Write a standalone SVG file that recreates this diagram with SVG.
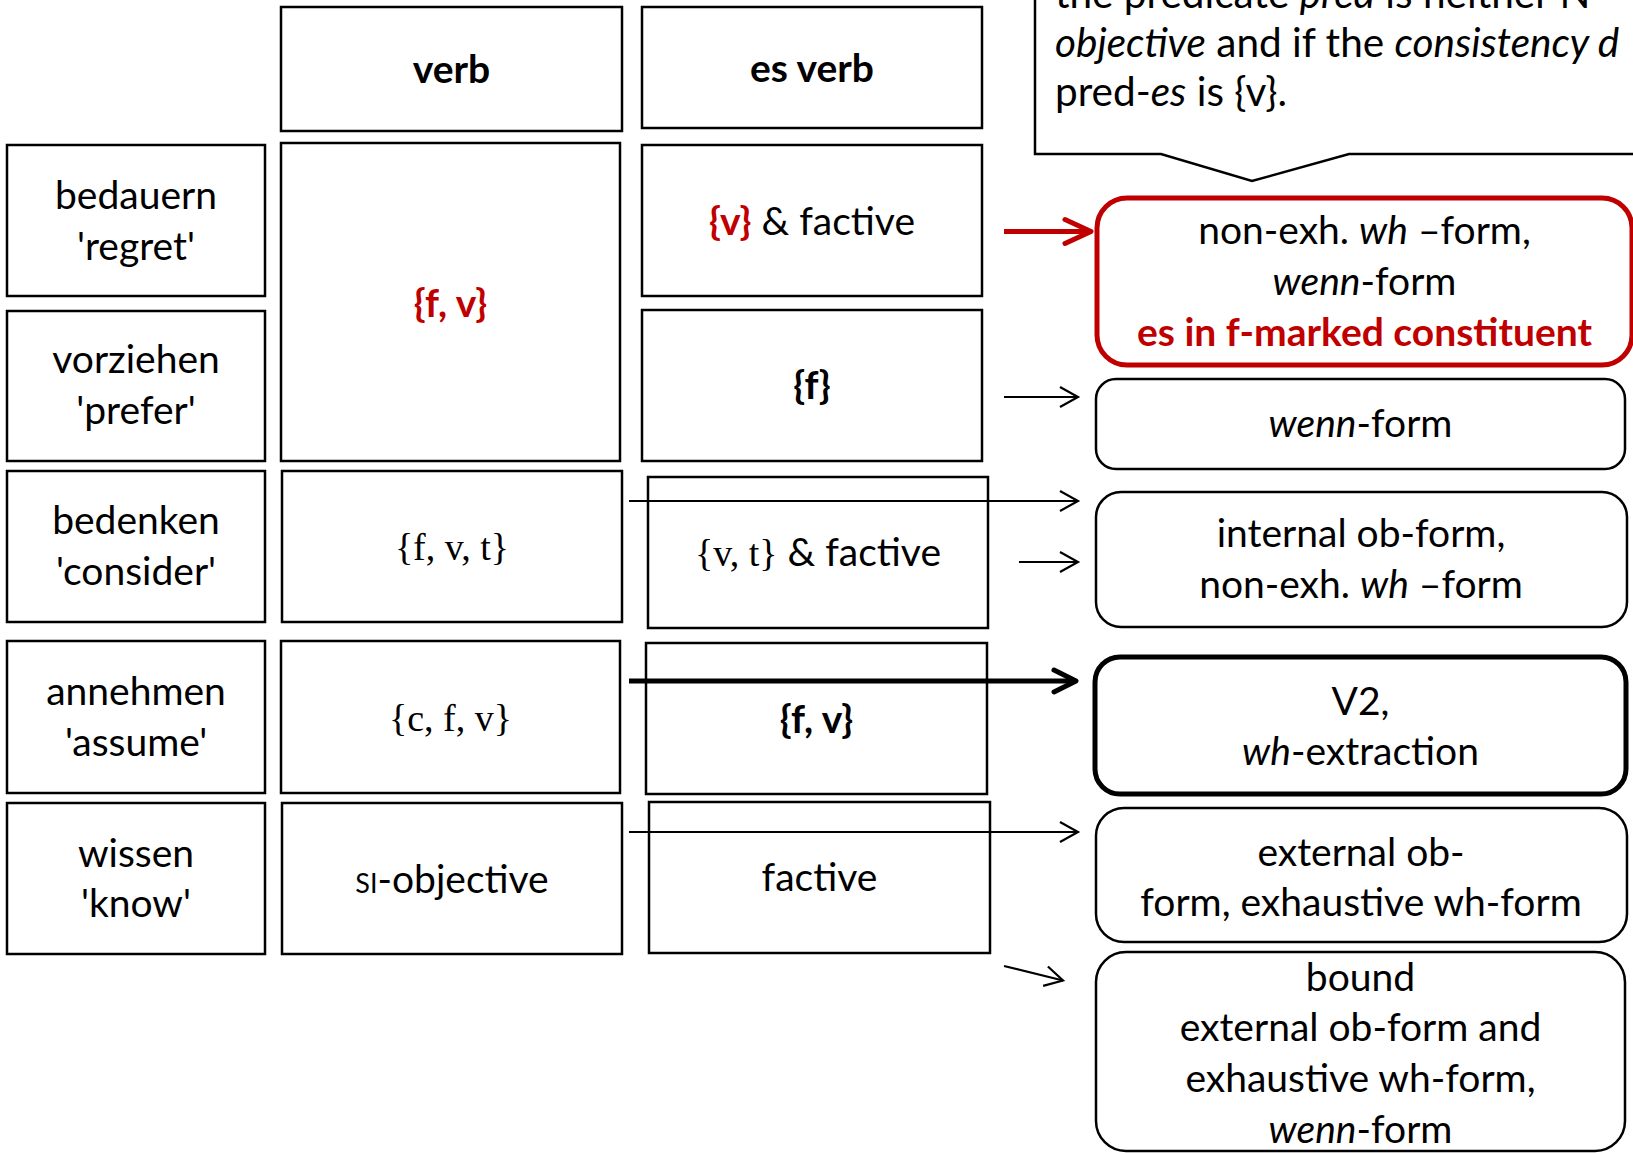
<svg xmlns="http://www.w3.org/2000/svg" width="1633" height="1153" viewBox="0 0 1633 1153">
<style>
.box{fill:#fff;stroke:#000;stroke-width:2.5}
.t{font-family:Lato,"Liberation Sans",sans-serif;font-size:39px;text-anchor:middle;fill:#000}
.l{text-anchor:start;font-size:40.5px}
.b{font-weight:bold}
.red{fill:#C00000}
.i{font-style:italic}
.sf{font-family:"Liberation Serif","DejaVu Serif",serif;font-size:38px}
.ln{fill:none;stroke:#000;stroke-width:2.2}
.lk{fill:none;stroke:#000;stroke-width:5}
.lr{fill:none;stroke:#C00000;stroke-width:5}
</style>
<defs>
<marker id="ah" markerUnits="userSpaceOnUse" markerWidth="40" markerHeight="40" refX="0" refY="0" orient="auto" overflow="visible"><path d="M-18,-10 L0,0 L-18,10" fill="none" stroke="#000" stroke-width="2.2"/></marker>
<marker id="ahk" markerUnits="userSpaceOnUse" markerWidth="40" markerHeight="40" refX="0" refY="0" orient="auto" overflow="visible"><path d="M-22,-11 L0,0 L-22,11" fill="none" stroke="#000" stroke-width="5" stroke-linecap="round" stroke-linejoin="round"/></marker>
<marker id="ahr" markerUnits="userSpaceOnUse" markerWidth="40" markerHeight="40" refX="0" refY="0" orient="auto" overflow="visible"><path d="M-26,-12 L0,0 L-26,12" fill="none" stroke="#C00000" stroke-width="5" stroke-linecap="round" stroke-linejoin="round"/></marker>
</defs>

<g id="callout">
<path d="M1035,-10 L1035,154 L1161,154 L1252,181 L1349,154 L1650,154 L1650,-10 Z" class="box"/>
<text class="t l" x="1055" y="8">the predicate <tspan class="i">pred</tspan> is neither N</text>
<text class="t l" x="1055" y="57"><tspan class="i">objective</tspan> and if the <tspan class="i">consistency d</tspan></text>
<text class="t l" x="1055" y="106">pred-<tspan class="i">es</tspan> is {v}.</text>
</g>

<g id="h-verb"><rect class="box" x="281" y="7" width="341" height="124"/><text class="t b" x="451.5" y="83">verb</text></g>
<g id="h-esverb"><rect class="box" x="642" y="7" width="340" height="121"/><text class="t b" x="812" y="82">es verb</text></g>

<g id="v-bedauern"><rect class="box" x="7" y="145" width="258" height="151"/><text class="t" x="136" y="209">bedauern</text><text class="t" x="136" y="260">'regret'</text></g>
<g id="v-vorziehen"><rect class="box" x="7" y="311" width="258" height="150"/><text class="t" x="136" y="373">vorziehen</text><text class="t" x="136" y="424">'prefer'</text></g>
<g id="v-bedenken"><rect class="box" x="7" y="471" width="258" height="151"/><text class="t" x="136" y="534">bedenken</text><text class="t" x="136" y="585">'consider'</text></g>
<g id="v-annehmen"><rect class="box" x="7" y="641" width="258" height="152"/><text class="t" x="136" y="705">annehmen</text><text class="t" x="136" y="756">'assume'</text></g>
<g id="v-wissen"><rect class="box" x="7" y="803" width="258" height="151"/><text class="t" x="136" y="867">wissen</text><text class="t" x="136" y="917">'know'</text></g>

<g id="m-fv"><rect class="box" x="281" y="143" width="339" height="318"/><text class="t b red" x="450.5" y="317">{f, v}</text></g>
<g id="m-fvt"><rect class="box" x="282" y="471" width="340" height="151"/><text class="t sf" x="452" y="560">{f, v, t}</text></g>
<g id="m-cfv"><rect class="box" x="281" y="641" width="339" height="152"/><text class="t sf" x="450.5" y="731">{c, f, v}</text></g>
<g id="m-si"><rect class="box" x="282" y="803" width="340" height="151"/><text class="t" x="452" y="893"><tspan style="font-variant:small-caps">si</tspan>-objective</text></g>

<g id="e-vfactive"><rect class="box" x="642" y="145" width="340" height="151"/><text class="t" x="812" y="235"><tspan class="b red">{v}</tspan> &amp; factive</text></g>
<g id="e-f"><rect class="box" x="642" y="310" width="340" height="151"/><text class="t b" x="812" y="399">{f}</text></g>
<g id="e-vtfactive"><rect class="box" x="648" y="477" width="340" height="151"/><text class="t" x="818" y="566"><tspan class="sf">{v, t}</tspan> &amp; factive</text></g>
<g id="e-fv"><rect class="box" x="646" y="643" width="341" height="151"/><text class="t b" x="816.5" y="733">{f, v}</text></g>
<g id="e-factive"><rect class="box" x="649" y="802" width="341" height="151"/><text class="t" x="819.5" y="891">factive</text></g>

<g id="r-nonexh"><rect x="1097" y="198" width="535" height="167" rx="30" fill="#fff" stroke="#C00000" stroke-width="5"/><text class="t" x="1364.5" y="244">non-exh. <tspan class="i">wh</tspan> –form,</text><text class="t" x="1364.5" y="295"><tspan class="i">wenn</tspan>-form</text><text class="t b red" x="1364.5" y="346">es in f-marked constituent</text></g>
<g id="r-wenn"><rect class="box" x="1096" y="379" width="529" height="90" rx="20"/><text class="t" x="1360.5" y="437"><tspan class="i">wenn</tspan>-form</text></g>
<g id="r-internal"><rect class="box" x="1096" y="492" width="531" height="135" rx="25"/><text class="t" x="1361" y="547">internal ob-form,</text><text class="t" x="1361" y="598">non-exh. <tspan class="i">wh</tspan> –form</text></g>
<g id="r-v2"><rect x="1095" y="657" width="531" height="137" rx="25" fill="#fff" stroke="#000" stroke-width="5"/><text class="t" x="1360.5" y="715">V2,</text><text class="t" x="1360.5" y="765"><tspan class="i">wh</tspan>-extraction</text></g>
<g id="r-external"><rect class="box" x="1096" y="808" width="531" height="134" rx="28"/><text class="t" x="1361" y="866">external ob-</text><text class="t" x="1361" y="916">form, exhaustive wh-form</text></g>
<g id="r-bound"><rect class="box" x="1096" y="952" width="529" height="199" rx="30"/><text class="t" x="1360.5" y="991">bound</text><text class="t" x="1360.5" y="1041">external ob-form and</text><text class="t" x="1360.5" y="1092">exhaustive wh-form,</text><text class="t" x="1360.5" y="1143"><tspan class="i">wenn</tspan>-form</text></g>

<g id="connectors">
<line class="lr" x1="1004" y1="231.5" x2="1091" y2="231.5" marker-end="url(#ahr)"/>
<line class="ln" x1="1004" y1="397" x2="1078" y2="397" marker-end="url(#ah)"/>
<line class="ln" x1="629" y1="501" x2="1078" y2="501" marker-end="url(#ah)"/>
<line class="ln" x1="1019" y1="562" x2="1078" y2="562" marker-end="url(#ah)"/>
<line class="lk" x1="629" y1="681" x2="1076" y2="681" marker-end="url(#ahk)"/>
<line class="ln" x1="629" y1="832" x2="1078" y2="832" marker-end="url(#ah)"/>
<line class="ln" x1="1004" y1="966" x2="1063" y2="980.5" marker-end="url(#ah)"/>
</g>
</svg>
